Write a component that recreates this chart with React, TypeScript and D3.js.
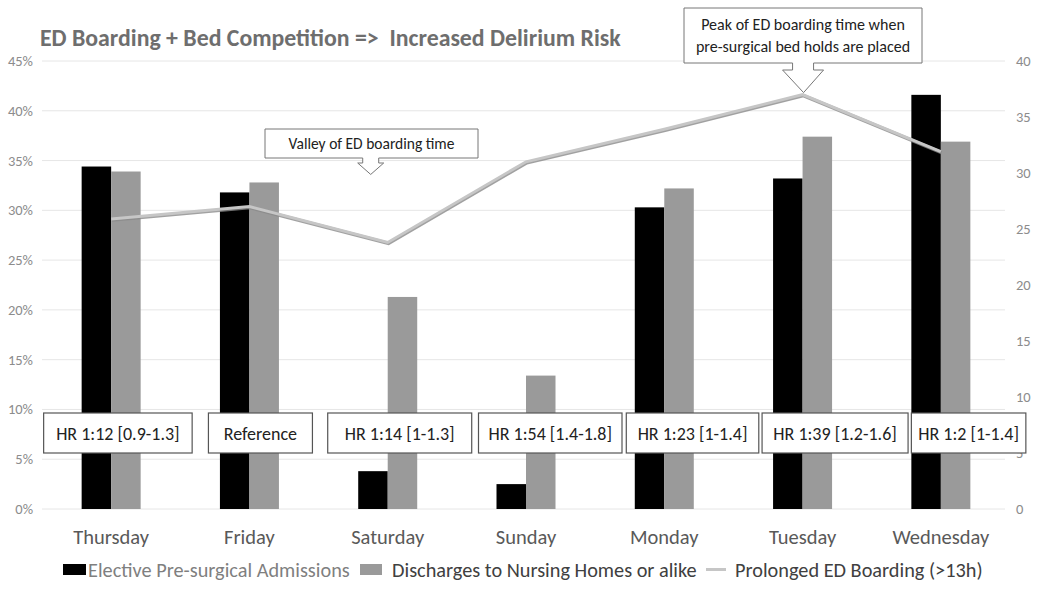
import React from "react";
import * as d3 from "d3";

const days = ["Thursday", "Friday", "Saturday", "Sunday", "Monday", "Tuesday", "Wednesday"];
const electiveAdmissions = [0.344, 0.318, 0.038, 0.025, 0.303, 0.332, 0.416];
const nursingDischarges = [0.339, 0.328, 0.213, 0.134, 0.322, 0.374, 0.369];
const prolongedBoarding = [25.9, 27.0, 23.8, 31.0, 33.9, 37.0, 31.9];
const hrLabels = ["HR 1:12 [0.9-1.3]", "Reference", "HR 1:14 [1-1.3]", "HR 1:54 [1.4-1.8]", "HR 1:23 [1-1.4]", "HR 1:39 [1.2-1.6]", "HR 1:2 [1-1.4]"];
const leftTicks = [0, 0.05, 0.1, 0.15, 0.2, 0.25, 0.3, 0.35, 0.4, 0.45];
const rightTicks = [0, 5, 10, 15, 20, 25, 30, 35, 40];
const seriesNames = ["Elective Pre-surgical Admissions", "Discharges to Nursing Homes or alike", "Prolonged ED Boarding (>13h)"];
const title = "ED Boarding + Bed Competition =>  Increased Delirium Risk";

// layout of HR boxes relative to category centre: [dx, width]
const hrBoxLayout: [number, number][] = [
  [-67.5, 148.5], [-41, 104], [-60, 144], [-47.5, 143.5], [-38, 132.5], [-40.5, 146], [-29.5, 114.5],
];

const FONT = "Carlito, 'Liberation Sans Narrow', 'Open Sans', sans-serif";

export default function App() {
  const W = 1050, H = 590;
  const x0 = 42, x1 = 1010;
  const yTop = 61, yBot = 509;
  const x = d3.scaleBand<string>().domain(days).range([x0, x1]).paddingInner(0).paddingOuter(0);
  const yL = d3.scaleLinear().domain([0, 0.45]).range([yBot, yTop]);
  const yR = d3.scaleLinear().domain([0, 40]).range([yBot, yTop]);
  const barW = 29.5;
  const cx = (d: string) => (x(d) as number) + x.bandwidth() / 2;

  const line = d3.line<number>().x((_, i) => cx(days[i])).y((v) => yR(v));
  const lineD = line(prolongedBoarding) || "";

  const callout = (bx0: number, bx1: number, by0: number, by1: number, sx0: number, sx1: number, sy: number, hx0: number, hx1: number, tipX: number, tipY: number) =>
    `M${bx0},${by0} L${bx1},${by0} L${bx1},${by1} L${sx1},${by1} L${sx1},${sy} L${hx1},${sy} L${tipX},${tipY} L${hx0},${sy} L${sx0},${sy} L${sx0},${by1} L${bx0},${by1} Z`;

  const satX = cx("Saturday");
  const tueX = cx("Tuesday");
  const valleyTipY = yR(prolongedBoarding[2]) - 68;
  const peakTipY = yR(prolongedBoarding[5]) - 2;

  return (
    <svg width={W} height={H} style={{ display: "block", position: "absolute", left: 0, top: 0, background: "#fff" }} fontFamily={FONT}>
      <rect width={W} height={H} fill="#fff" />
      <text x={40} y={46} fontSize={23.8} fontWeight="bold" fill="#6e6e6e" style={{ whiteSpace: "pre" }}>{title}</text>

      {leftTicks.map((t) => (
        <g key={"g" + t}>
          <line x1={x0} x2={1005} y1={yL(t)} y2={yL(t)} stroke="#e6e6e6" strokeWidth={1} />
          <text x={33} y={yL(t) + 5} fontSize={14.5} fill="#8c8c8c" textAnchor="end">{d3.format(".0%")(t)}</text>
        </g>
      ))}
      {rightTicks.map((t) => (
        <text key={"r" + t} x={1016} y={yR(t) + 5} fontSize={14.5} fill="#8c8c8c">{t}</text>
      ))}

      {days.map((d, i) => (
        <g key={d}>
          <rect x={cx(d) - barW} y={yL(electiveAdmissions[i])} width={barW} height={yBot - yL(electiveAdmissions[i])} fill="#000" />
          <rect x={cx(d)} y={yL(nursingDischarges[i])} width={barW} height={yBot - yL(nursingDischarges[i])} fill="#9a9a9a" />
          <text x={cx(d)} y={544} fontSize={20.5} fill="#595959" textAnchor="middle">{d}</text>
        </g>
      ))}

      <path d={lineD} fill="none" stroke="#8a8a8a" strokeWidth={3.5} transform="translate(0.8,1)" strokeLinejoin="miter" opacity={0.8} />
      <path d={lineD} fill="none" stroke="#c6c6c6" strokeWidth={3} strokeLinejoin="miter" />

      {days.map((d, i) => {
        const [dx, w] = hrBoxLayout[i];
        const bx = cx(d) + dx;
        return (
          <g key={"hr" + d}>
            <rect x={bx} y={413} width={w} height={40} fill="#fff" stroke="#555" strokeWidth={1.2} />
            <text x={bx + w / 2} y={439.5} fontSize={18} fill="#222" textAnchor="middle">{hrLabels[i]}</text>
          </g>
        );
      })}

      <path d={callout(265, 478, 129, 158, satX - 25, satX - 9, 163, satX - 30, satX - 4, satX - 17, valleyTipY)} fill="#fff" stroke="#777" strokeWidth={1} />
      <text x={371.5} y={149} fontSize={15.5} fill="#222" textAnchor="middle">Valley of ED boarding time</text>

      <path d={callout(684, 922, 8, 63, tueX - 10, tueX + 11, 70, tueX - 20, tueX + 21, tueX + 1, peakTipY)} fill="#fff" stroke="#777" strokeWidth={1} />
      <text x={803} y={30} fontSize={16} fill="#222" textAnchor="middle">Peak of ED boarding time when</text>
      <text x={803} y={52} fontSize={16} fill="#222" textAnchor="middle">pre-surgical bed holds are placed</text>

      <rect x={63} y={564} width={23} height={11} fill="#000" />
      <text x={88} y={577} fontSize={20.3} fill="#7f7f7f">{seriesNames[0]}</text>
      <rect x={360} y={564} width={22} height={11} fill="#9a9a9a" />
      <text x={392} y={577} fontSize={20.3} fill="#404040">{seriesNames[1]}</text>
      <line x1={706} x2={726} y1={569.5} y2={569.5} stroke="#c6c6c6" strokeWidth={3} />
      <text x={735} y={577} fontSize={20.3} fill="#404040">{seriesNames[2]}</text>
    </svg>
  );
}
